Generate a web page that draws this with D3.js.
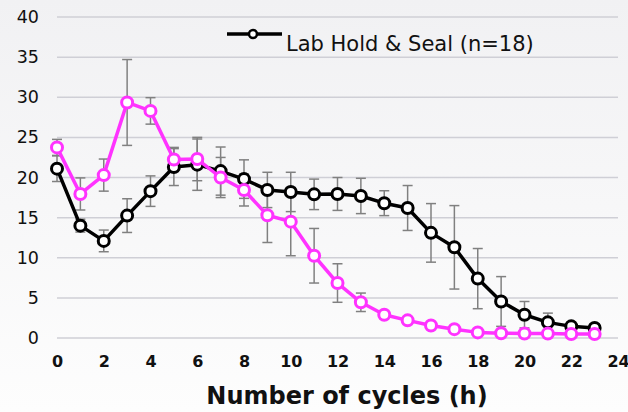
<!DOCTYPE html>
<html>
<head>
<meta charset="utf-8">
<script src="https://cdn.jsdelivr.net/npm/d3@7"></script>
<style>
  body { margin: 0; background: #fff; }
  svg { display: block; font-family: "DejaVu Sans", Verdana, sans-serif; }
</style>
</head>
<body>
<svg id="chart"></svg>
<script>
// données
const hours = [0, 1, 2, 3, 4, 5, 6, 7, 8, 9, 10, 11, 12, 13, 14, 15, 16, 17, 18, 19, 20, 21, 22, 23];
const labValues = [21.1, 14.0, 12.1, 15.25, 18.3, 21.3, 21.6, 20.8, 19.8, 18.45, 18.2, 17.9, 17.95, 17.7, 16.8, 16.2, 13.1, 11.3, 7.4, 4.55, 2.9, 1.95, 1.45, 1.25];
const labErrors = [1.6, 0.8, 1.35, 2.1, 1.9, 2.3, 3.2, 3.0, 2.4, 2.2, 2.45, 1.9, 2.05, 2.2, 1.55, 2.8, 3.65, 5.2, 3.75, 3.1, 1.65, 1.15, 0.5, 0.5];
const pinkValues = [23.75, 17.95, 20.3, 29.35, 28.3, 22.25, 22.3, 20.0, 18.45, 15.3, 14.5, 10.25, 6.85, 4.45, 2.9, 2.2, 1.55, 1.1, 0.7, 0.6, 0.57, 0.55, 0.5, 0.5];
const pinkErrors = [1.0, 2.0, 2.0, 5.35, 1.65, 1.5, 2.7, 2.5, 2.0, 3.4, 4.25, 3.4, 2.4, 1.15, 0.4, 0.4, 0.3, 0.3, 0.3, 0.3, 0.3, 0.3, 0.3, 0.3];
const yTicks = [0, 5, 10, 15, 20, 25, 30, 35, 40];
const xTicks = [0, 2, 4, 6, 8, 10, 12, 14, 16, 18, 20, 22, 24];
const legendLabel = "Lab Hold & Seal (n=18)";
const xTitle = "Number of cycles (h)";

const width = 628;
const height = 412;
const margin = { top: 17, right: 10, bottom: 74, left: 57 };

const svg = d3.select("#chart")
    .attr("width", width)
    .attr("height", height);

// fond en dégradé
const defs = svg.append("defs");
const grad = defs.append("linearGradient")
    .attr("id", "bg")
    .attr("x1", 0).attr("y1", 0).attr("x2", 0).attr("y2", 1);
grad.append("stop").attr("offset", "0%").attr("stop-color", "#f1f1f3");
grad.append("stop").attr("offset", "100%").attr("stop-color", "#fdfdfd");
svg.append("rect")
    .attr("width", width)
    .attr("height", height)
    .attr("fill", "url(#bg)");

const x = d3.scaleLinear()
    .domain([0, 24])
    .range([margin.left, width - margin.right]);

const y = d3.scaleLinear()
    .domain([0, 40])
    .range([height - margin.bottom, margin.top]);

// lignes de grille
svg.append("g")
    .selectAll("line")
    .data(yTicks)
    .join("line")
    .attr("x1", x(0))
    .attr("x2", x(24))
    .attr("y1", d => y(d))
    .attr("y2", d => y(d))
    .attr("stroke", "#cfcfd6")
    .attr("stroke-width", 1.5);

// axe Y
const yAxis = svg.append("g")
    .attr("transform", `translate(${margin.left - 18}, 0)`)
    .call(d3.axisLeft(y).tickValues(yTicks).tickSize(0).tickPadding(0));
yAxis.select(".domain").remove();
yAxis.selectAll("text")
    .attr("font-size", 17.5)
    .attr("font-family", "DejaVu Sans, sans-serif")
    .attr("fill", "#111");

// axe X
const xAxis = svg.append("g")
    .attr("transform", `translate(0, ${y(0)})`)
    .call(d3.axisBottom(x).tickValues(xTicks).tickSize(0).tickPadding(18));
xAxis.select(".domain").remove();
xAxis.selectAll("text")
    .attr("font-size", 16)
    .attr("font-weight", "bold")
    .attr("font-family", "DejaVu Sans, sans-serif")
    .attr("fill", "#111");

svg.append("text")
    .attr("x", 347)
    .attr("y", 404)
    .attr("text-anchor", "middle")
    .attr("font-size", 24)
    .attr("font-weight", "bold")
    .attr("fill", "#111")
    .text(xTitle);

const series = [
    { values: labValues, errors: labErrors, color: "#000000" },
    { values: pinkValues, errors: pinkErrors, color: "#ff33ff" }
];

// barres d'erreur
series.forEach(s => {
    const g = svg.append("g")
        .attr("stroke", "#808080")
        .attr("stroke-width", 1.5);
    hours.forEach((h, i) => {
        const top = y(s.values[i] + s.errors[i]);
        const bot = y(Math.max(0, s.values[i] - s.errors[i]));
        g.append("line").attr("x1", x(h)).attr("x2", x(h)).attr("y1", top).attr("y2", bot);
        g.append("line").attr("x1", x(h) - 5).attr("x2", x(h) + 5).attr("y1", top).attr("y2", top);
        g.append("line").attr("x1", x(h) - 5).attr("x2", x(h) + 5).attr("y1", bot).attr("y2", bot);
    });
});

const line = d3.line()
    .x((d, i) => x(hours[i]))
    .y(d => y(d));

series.forEach(s => {
    svg.append("path")
        .datum(s.values)
        .attr("fill", "none")
        .attr("stroke", s.color)
        .attr("stroke-width", 3.5)
        .attr("stroke-linejoin", "round")
        .attr("d", line);

    svg.append("g")
        .selectAll("circle")
        .data(s.values)
        .join("circle")
        .attr("cx", (d, i) => x(hours[i]))
        .attr("cy", d => y(d))
        .attr("r", 5.5)
        .attr("fill", "#fff")
        .attr("stroke", s.color)
        .attr("stroke-width", 3);
});

// légende
const legend = svg.append("g");
legend.append("line")
    .attr("x1", 227).attr("x2", 282)
    .attr("y1", 34).attr("y2", 34)
    .attr("stroke", "#000")
    .attr("stroke-width", 3.5);
legend.append("circle")
    .attr("cx", 253).attr("cy", 34)
    .attr("r", 4)
    .attr("fill", "#fff")
    .attr("stroke", "#000")
    .attr("stroke-width", 2.5);
legend.append("text")
    .attr("x", 286)
    .attr("y", 51)
    .attr("font-size", 21)
    .attr("fill", "#111")
    .text(legendLabel);
</script>
</body>
</html>
